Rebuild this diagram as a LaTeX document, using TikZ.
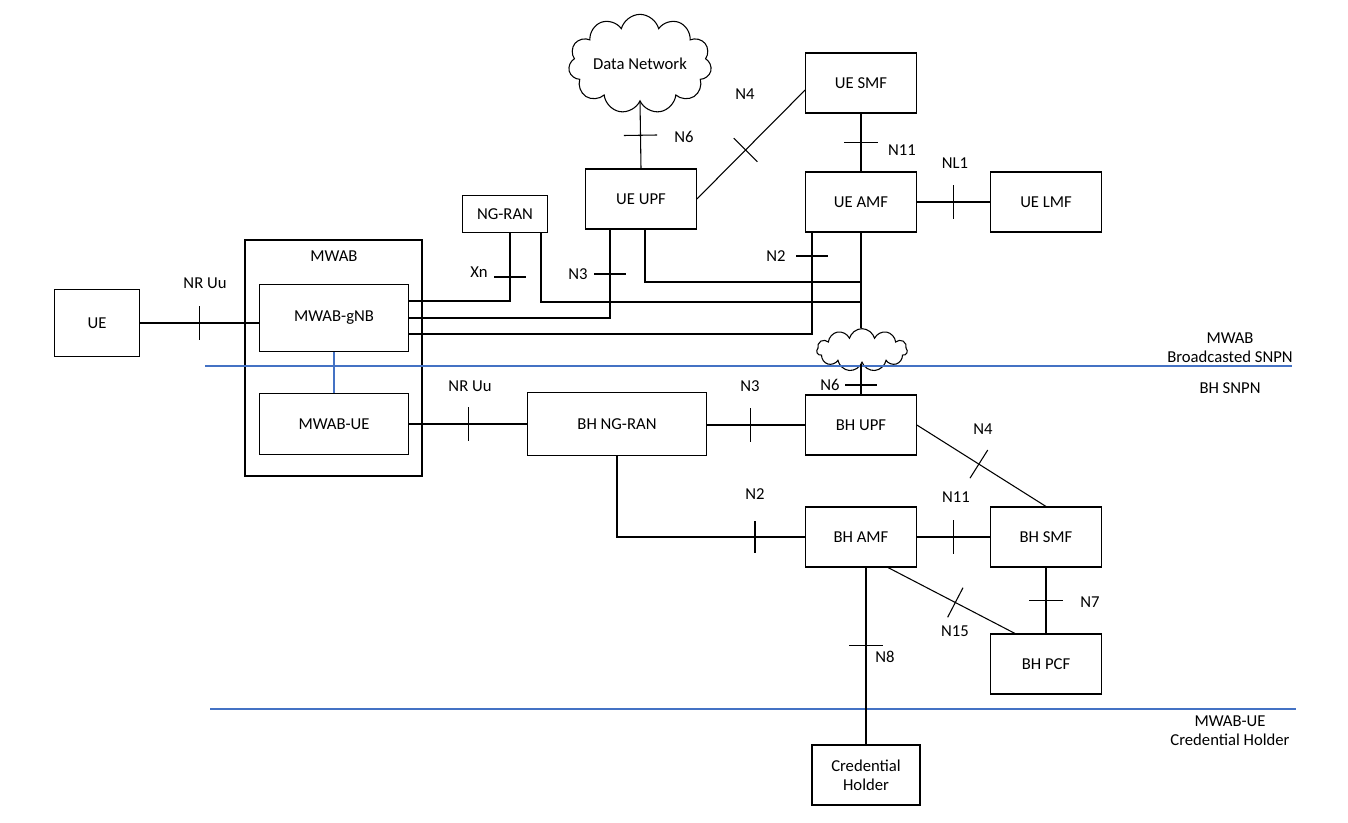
\documentclass[tikz,border=0pt]{standalone}
\usepackage{fontspec}
\setmainfont{Carlito}
\usetikzlibrary{calc}
\usetikzlibrary{shapes.symbols}
\usetikzlibrary{positioning}
\definecolor{snpnblue}{RGB}{68,114,196}
\tikzset{
  nf/.style={draw, thick, minimum width=83pt, minimum height=45pt, align=center},
  cl/.style={cloud, draw, thick, cloud puffs=11, aspect=1.8, inner sep=0pt},
  lbl/.style={inner sep=1pt},
  bnd/.style={snpnblue, thick},
}
% short tick across a connector, at a fraction of it
\newcommand\tk[3]{%
  \coordinate (tkc) at ($(#1)!#3!(#2)$);
  \draw[thick] ($(tkc)!12.5pt!90:(#2)$) -- ($(tkc)!12.5pt!-90:(#2)$);}
\begin{document}
\begin{tikzpicture}[x=0.75pt, y=-0.75pt, font=\fontsize{12.5}{14}\selectfont]
  \useasboundingbox (0,0) rectangle (1348,822);
  % core of the UE side
  \node[cl, minimum width=92pt, minimum height=52pt] (dn) at (640,64) {Data Network};
  \node[nf] (smf) at (861,83) {UE SMF};
  \node[nf] (upf) at (641,199) {UE UPF};
  \node[nf] (amf) at (861,202) {UE AMF};
  \node[nf] (lmf) at (1046,202) {UE LMF};
  \node[draw, thick, minimum width=64pt, minimum height=28pt] (ngran) at (505,214) {NG-RAN};
  \node[cl, minimum width=68pt, minimum height=32pt] (bhcl) at (862,350) {};
  % MWAB
  \draw[thick] (245,240) rectangle (422,476);
  \node[lbl] (mwab) at (334,256) {MWAB};
  \node[draw, thick, minimum width=64pt, minimum height=50pt] (ue) at (97,323) {UE};
  \node[draw, thick, minimum width=112pt, minimum height=50pt] (gnb) at (334,318) {MWAB-gNB};
  \node[draw, thick, minimum width=112pt, minimum height=46pt] (mue) at (334,424) {MWAB-UE};
  % backhaul
  \node[draw, thick, minimum width=134pt, minimum height=47pt] (bhran) at (617,424) {BH NG-RAN};
  \node[nf] (bhupf) at (861,425) {BH UPF};
  \node[nf] (bhamf) at (861,537) {BH AMF};
  \node[nf] (bhsmf) at (1046,537) {BH SMF};
  \node[nf] (bhpcf) at (1046,664) {BH PCF};
  \node[nf, minimum width=81pt] (ch) at (866,775) {Credential\\Holder};

  % borders between networks
  \draw[bnd] (205,366) -- (1292,366);
  \draw[bnd] (210,709) -- (1296,709);
  \node[lbl, align=center] (lb1) at (1230,348) {MWAB\\Broadcasted SNPN};
  \node[lbl] (lb2) at (1230,388) {BH SNPN};
  \node[lbl, align=center] (lb3) at (1230,731) {MWAB-UE\\Credential Holder};

  % connectors
  \draw[thick] (ue.east) -- (ue.east -| gnb.west);
  \tk{ue.east}{ue.east -| gnb.west}{0.5}
  \node[lbl] (nruu1) at (205,283) {NR Uu};
  \draw[snpnblue, thick] (gnb.south) -- (mue.north);
  \draw[thick] (mue.east) -- (bhran.west);
  \tk{mue.east}{bhran.west}{0.5}
  \node[lbl] (nruu2) at (470,386) {NR Uu};
  \draw[thick] (bhran.east |- bhupf) -- (bhupf.west);
  \tk{bhran.east |- bhupf}{bhupf.west}{0.44}
  \node[lbl] (n3b) at (750,386) {N3};

  \draw[thick] (dn.south) -- (upf.north);
  \tk{dn.south}{upf.north}{0.5}
  \node[lbl] (n6a) at (684,137) {N6};
  \draw[thick] (upf.east) -- (smf.west |- 0,90);
  \tk{upf.east}{smf.west |- 0,90}{0.45}
  \node[lbl] (n4a) at (745,94) {N4};
  \draw[thick] (smf.south) -- (amf.north);
  \tk{smf.south}{amf.north}{0.5}
  \node[lbl] (n11a) at (902,150) {N11};
  \draw[thick] (amf.east) -- (lmf.west);
  \tk{amf.east}{lmf.west}{0.5}
  \node[lbl] (nl1) at (955,163) {NL1};

  \draw[thick] (gnb.east |- 0,301) -| (ngran.south -| 510,0);
  \draw[thick] (494,277) -- (526,277);
  \node[lbl] (xn) at (479,272) {Xn};
  \draw[thick] (gnb.east |- 0,318) -| (upf.south -| 610,0);
  \draw[thick] (594,274) -- (626,274);
  \node[lbl] (n3a) at (578,274) {N3};
  \draw[thick] (gnb.east |- 0,334) -| (amf.south -| 812,0);
  \draw[thick] (796,256) -- (828,256);
  \node[lbl] (n2a) at (776,256) {N2};
  \draw[thick] (ngran.south -| 541,0) |- (amf.south |- 0,302);
  \draw[thick] (upf.south -| 645,0) |- (amf.south |- 0,282);
  \draw[thick] (amf.south) -- (amf.south |- bhcl.north);
  \draw[thick] (amf.south |- bhcl.south) -- (bhupf.north);
  \draw[thick] (845,385) -- (877,385);
  \node[lbl] (n6b) at (830,385) {N6};

  \draw[thick] (bhupf.east |- 0,425) -- (bhsmf.north);
  \tk{bhupf.east |- 0,425}{bhsmf.north}{0.48}
  \node[lbl] (n4b) at (983,429) {N4};
  \draw[thick] (bhran.south) |- (bhamf.west);
  \draw[thick] (755,521) -- (755,553);
  \node[lbl] (n2b) at (755,494) {N2};
  \draw[thick] (bhamf.east) -- (bhsmf.west);
  \tk{bhamf.east}{bhsmf.west}{0.5}
  \node[lbl] (n11b) at (956,497) {N11};
  \draw[thick] (bhamf.south -| 888,0) -- (bhpcf.north -| 1015,0);
  \tk{bhamf.south -| 888,0}{bhpcf.north -| 1015,0}{0.53}
  \node[lbl] (n15) at (955,631) {N15};
  \draw[thick] (bhsmf.south) -- (bhpcf.north);
  \tk{bhsmf.south}{bhpcf.north}{0.5}
  \node[lbl] (n7) at (1090,602) {N7};
  \draw[thick] (ch.north) -- (ch.north |- bhamf.south);
  \tk{ch.north}{ch.north |- bhamf.south}{0.56}
  \node[lbl] (n8) at (885,657) {N8};
\end{tikzpicture}
\end{document}
